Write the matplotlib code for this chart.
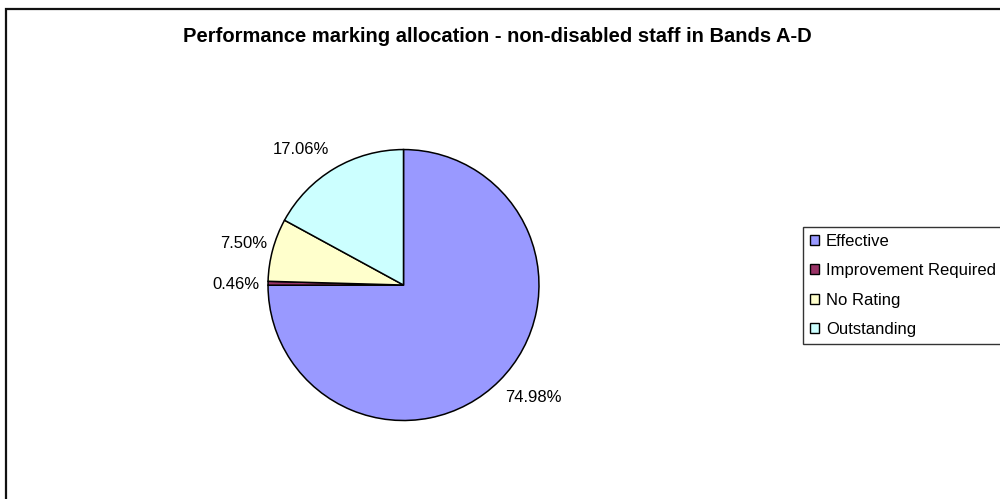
import numpy as np
import matplotlib
matplotlib.use("Agg")
import matplotlib.pyplot as plt
from matplotlib.patches import Patch, Rectangle

plt.rcParams['font.family'] = ['Liberation Sans', 'DejaVu Sans']

categories = ['Effective', 'Improvement Required', 'No Rating', 'Outstanding']
shares = [74.98, 0.46, 7.50, 17.06]
colours = ['#9999FF', '#993366', '#FFFFCC', '#CCFFFF']
label_text = ['74.98%', '0.46%', '7.50%', '17.06%']

fig = plt.figure(figsize=(10, 4.99), dpi=100)

# chart area border, open on the right and bottom
fig.patches.append(Rectangle((0.006, -0.05), 1.2, 1.032, transform=fig.transFigure,
                             fill=False, edgecolor='#111111', linewidth=1.6))

fig.text(0.497, 0.926, 'Performance marking allocation - non-disabled staff in Bands A-D',
         ha='center', va='center', fontsize=14.5, fontweight='bold')

ax = fig.add_axes([0.268, 0.1573, 0.271, 0.543])
wedges, _ = ax.pie(shares, colors=colours, startangle=90, counterclock=False,
                   radius=1, wedgeprops=dict(edgecolor='black', linewidth=1.1))
ax.set_xlim(-1, 1)
ax.set_ylim(-1, 1)
ax.axis('off')

# percentage labels just outside each slice, offsets in points
offsets = [(24.5, -12), (-6, -1), (-4, 4.5), (-24, 14)]
aligns = ['center', 'right', 'right', 'center']
for w, txt, off, ha in zip(wedges, label_text, offsets, aligns):
    mid = np.deg2rad((w.theta1 + w.theta2) / 2)
    x, y = np.cos(mid), np.sin(mid)
    ax.annotate(txt, xy=(x, y), xytext=off, textcoords='offset points',
                ha=ha, va='center', fontsize=12)

handles = [Patch(facecolor=c, edgecolor='black', linewidth=1.0) for c in colours]
leg = fig.legend(handles, categories, loc='upper left', bbox_to_anchor=(0.803, 1 - 227 / 499),
                 fontsize=12, frameon=True, fancybox=False, handlelength=0.54,
                 handleheight=0.54, handletextpad=0.42, labelspacing=0.86,
                 borderpad=0.42, borderaxespad=0)
leg.get_frame().set_edgecolor('black')
leg.get_frame().set_linewidth(1.0)

fig.savefig('out.png', dpi=100)
